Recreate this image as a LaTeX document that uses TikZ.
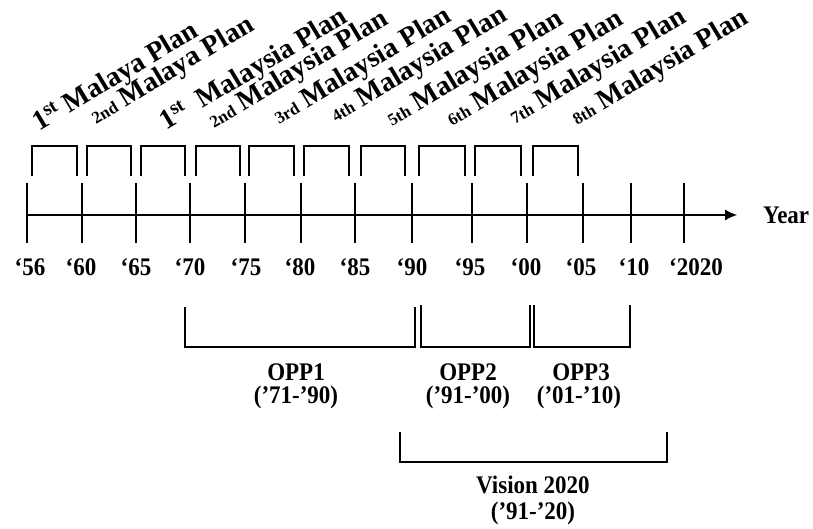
\documentclass[tikz,border=0pt]{standalone}
\usepackage{fontspec}
\setmainfont{Liberation Serif}
\usetikzlibrary{arrows.meta}
\newcommand{\ordsmall}[1]{{\fontsize{17}{17}\selectfont #1}}

\begin{document}
\begin{tikzpicture}[x=1pt, y=1pt,
  every node/.style={font=\bfseries\fontsize{23}{23}\selectfont, inner sep=0pt},
  lbl/.style={yscale=1.1},
  planlbl/.style={rotate=31, anchor=base west, font=\bfseries\fontsize{28}{28}\selectfont},
  brk/.style={line width=1.1pt}]
\useasboundingbox (0,0) rectangle (813,-529);
% plan labels
\node[planlbl] (p1) at (39,-132) {1\textsuperscript{st} Malaya Plan};
\node[planlbl] (p2) at (96,-125) {\ordsmall{2nd} Malaya Plan};
\node[planlbl] (p3) at (166,-131) {1\textsuperscript{st}\ \ Malaysia Plan};
\node[planlbl] (p4) at (214,-129) {\ordsmall{2nd} Malaysia Plan};
\node[planlbl] (p5) at (279,-125) {\ordsmall{3rd} Malaysia Plan};
\node[planlbl] (p6) at (336,-123) {\ordsmall{4th} Malaysia Plan};
\node[planlbl] (p7) at (392,-127) {\ordsmall{5th} Malaysia Plan};
\node[planlbl] (p8) at (452,-127) {\ordsmall{6th} Malaysia Plan};
\node[planlbl] (p9) at (515,-125) {\ordsmall{7th} Malaysia Plan};
\node[planlbl] (p10) at (577,-126) {\ordsmall{8th} Malaysia Plan};
% plan brackets
\foreach \a/\b in {32/77, 87/131, 141/185, 196/240, 249/294, 304/349, 361/405, 419/465, 475/521, 533/578}
  \draw[brk] (\a,-176) |- (\b,-146) -- (\b,-176);
% time axis
\coordinate (ax0) at (27,-215);
\node[lbl, anchor=west] (yr) at (763,-215) {Year};
\draw[line width=1.2pt, -{Latex[length=12pt,width=11pt]}, shorten >=26pt] (ax0) -- (yr.west);
\foreach \x/\lx/\lab [count=\i] in {27/30/‘56, 82/81/‘60, 136/136/‘65, 190/190/‘70, 245/246/‘75,
    301/300/‘80, 355/355/‘85, 412/412/‘90, 472/470/‘95, 527/526/‘00, 583/581/‘05, 631/634/‘10, 684/696/‘2020} {
  \draw[brk] (\x,-183) -- (\x,-243);
  \node[lbl, anchor=base] (t\i) at (\lx,-275) {\lab};
}
% OPP brackets
\draw[brk] (185,-307) |- (415,-347) -- (415,-307);
\draw[brk] (421,-305) |- (530,-347) -- (530,-305);
\draw[brk] (534,-305) |- (630,-347) -- (630,-305);
\node[lbl, anchor=base] (o1) at (296,-380) {OPP1};
\node[lbl, anchor=base] (o1y) at (296,-403) {(’71-’90)};
\node[lbl, anchor=base] (o2) at (468,-380) {OPP2};
\node[lbl, anchor=base] (o2y) at (468,-403) {(’91-’00)};
\node[lbl, anchor=base] (o3) at (581,-380) {OPP3};
\node[lbl, anchor=base] (o3y) at (579,-403) {(’01-’10)};
% Vision 2020
\draw[brk] (400,-432) |- (667,-462) -- (667,-432);
\node[lbl, anchor=base] (v) at (533,-493) {Vision 2020};
\node[lbl, anchor=base] (vy) at (533,-519) {(’91-’20)};
\end{tikzpicture}
\end{document}
